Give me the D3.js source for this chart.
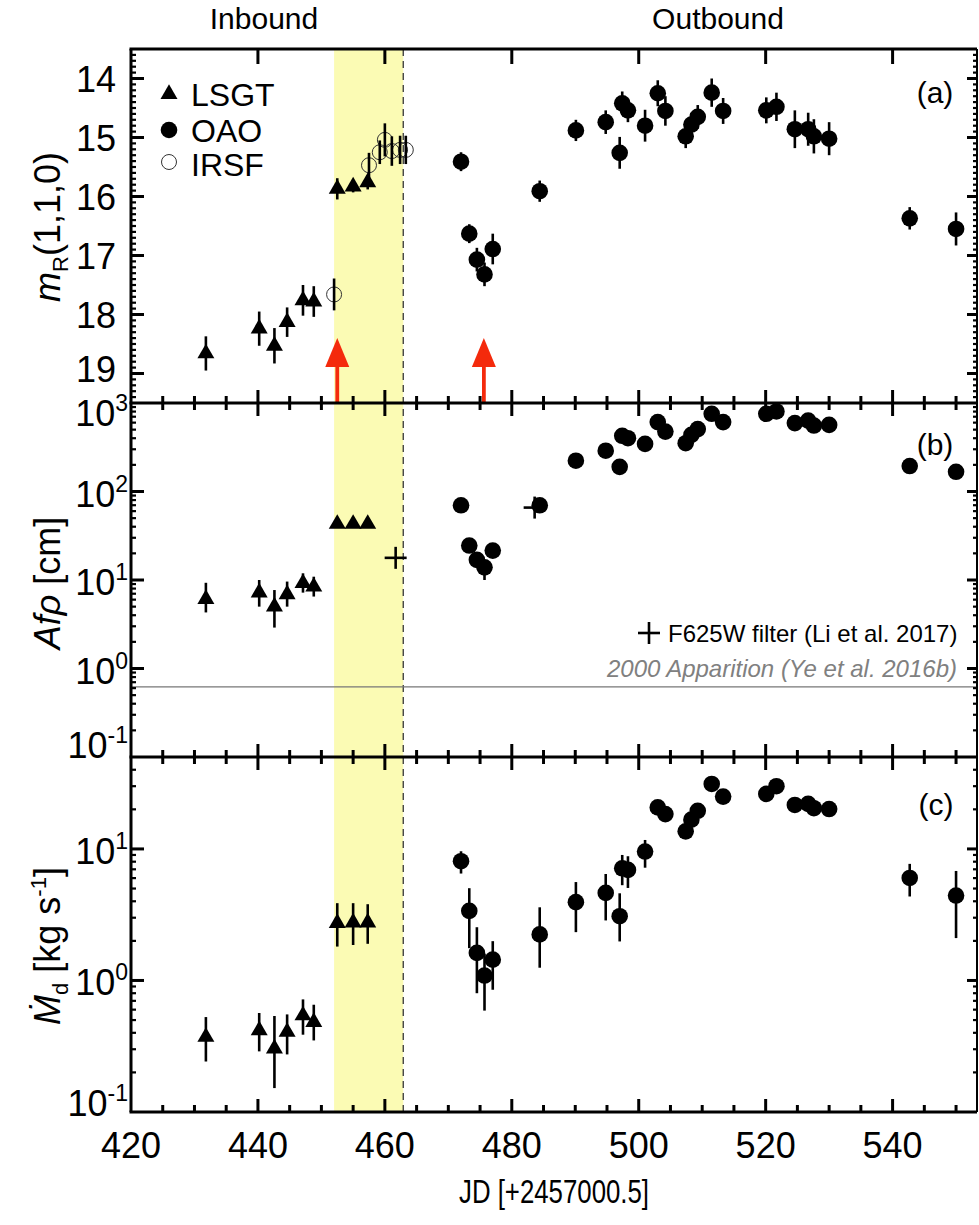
<!DOCTYPE html>
<html><head><meta charset="utf-8">
<script src="https://cdn.jsdelivr.net/npm/d3@7"></script>
<style>body{margin:0;background:#fff} svg{display:block} text{font-family:"Liberation Sans", Arial, Helvetica, sans-serif}</style>
</head><body><svg id="c" width="979" height="1225"></svg>
<script>
// ---------------- DATA ----------------
const xTicks = [420, 440, 460, 480, 500, 520, 540];
const magTicks = [14, 15, 16, 17, 18, 19];
const afrhoTicks = [0.1, 1, 10, 100, 1000];
const mdotTicks = [0.1, 1, 10];
const decadeExp = {"0.1": "-1", "1": "0", "10": "1", "100": "2", "1000": "3"};

const lsgtDay   = [431.8, 440.2, 442.6, 444.6, 447.1, 448.8, 452.5, 455.0, 457.3];
const lsgtMag   = [18.66, 18.24, 18.53, 18.13, 17.76, 17.78, 15.87, 15.83, 15.76];
const lsgtMagErr= [0.29, 0.29, 0.30, 0.25, 0.26, 0.26, 0.18, 0.10, 0.12];
const lsgtAfrho   = [6.1, 7.2, 5.0, 6.9, 9.2, 8.4, 43, 43, 43];
const lsgtAfrhoLo = [4.3, 5.0, 2.9, 5.0, 7.2, 6.5, 40, 40, 40];
const lsgtAfrhoHi = [9.3, 10.0, 7.7, 9.6, 11.9, 10.9, 46, 46, 46];
const lsgtMdot   = [0.372, 0.417, 0.303, 0.406, 0.542, 0.483, 2.73, 2.75, 2.75];
const lsgtMdotLo = [0.242, 0.289, 0.152, 0.274, 0.387, 0.350, 1.81, 1.86, 1.90];
const lsgtMdotHi = [0.527, 0.566, 0.537, 0.552, 0.718, 0.654, 3.87, 3.87, 3.80];

const irsfDay   = [452.0, 457.5, 459.2, 460.0, 461.1, 462.4, 463.3];
const irsfMag   = [17.66, 15.47, 15.25, 15.04, 15.23, 15.21, 15.21];
const irsfMagErr= [0.27, 0.21, 0.20, 0.28, 0.25, 0.24, 0.24];

const oaoDay = [472.0, 473.3, 474.5, 475.7, 477.0, 484.4, 490.1, 494.8, 497.0, 497.4, 498.3, 501.0, 503.0, 504.2,
                507.4, 508.3, 509.3, 511.5, 513.3, 520.1, 521.7, 524.6, 526.7, 527.6, 530.0, 542.7, 550.0];
const oaoMag = [15.41, 16.63, 17.07, 17.32, 16.89, 15.91, 14.88, 14.74, 15.26, 14.42, 14.54, 14.80, 14.25, 14.55,
                14.98, 14.78, 14.65, 14.24, 14.55, 14.54, 14.48, 14.86, 14.86, 14.98, 15.02, 16.37, 16.55];
const oaoMagErr = [0.16, 0.16, 0.20, 0.20, 0.26, 0.18, 0.18, 0.20, 0.27, 0.20, 0.20, 0.27, 0.22, 0.25,
                   0.20, 0.20, 0.20, 0.24, 0.22, 0.22, 0.24, 0.32, 0.28, 0.29, 0.28, 0.19, 0.28];
const oaoAfrho = [69.8, 24.5, 16.9, 13.9, 21.5, 69.8, 223, 289, 190, 426, 400, 345, 608, 475,
                  351, 436, 507, 755, 608, 755, 803, 593, 634, 556, 566, 194, 167];
const oaoAfrhoLo = [64, 22, 15, 10, 19.5, 64, 205, 265, 172, 395, 370, 318, 560, 440,
                    322, 402, 468, 700, 560, 700, 745, 545, 585, 512, 520, 178, 152];
const oaoAfrhoHi = [76, 27, 19, 16, 23.5, 76, 243, 315, 210, 460, 432, 375, 660, 512,
                    382, 472, 548, 815, 660, 815, 865, 645, 688, 602, 614, 212, 183];
const oaoMdot = [8.07, 3.38, 1.62, 1.09, 1.44, 2.24, 3.94, 4.63, 3.08, 7.13, 6.93, 9.55, 20.7, 18.4,
                 13.6, 16.7, 19.5, 31.2, 25.0, 26.2, 30.0, 21.6, 22.0, 20.4, 20.1, 6.02, 4.42];
const oaoMdotLo = [6.5, 1.76, 0.80, 0.59, 0.85, 1.25, 2.33, 2.86, 1.98, 5.3, 5.05, 7.2, 19, 17,
                   12.5, 15.5, 18, 29, 23, 24, 28, 20, 20.5, 19, 18.8, 4.35, 2.1];
const oaoMdotHi = [9.6, 5.03, 2.54, 1.6, 1.99, 3.6, 5.6, 6.45, 4.6, 9.0, 8.8, 11.7, 22.5, 20,
                   14.8, 18, 21, 33.5, 27, 28.5, 32, 23.3, 23.6, 21.8, 21.5, 7.7, 6.8];

const hstDay   = [461.7, 483.6];
const hstAfrho = [17.8, 65.8];

const apparition2000Afrho = 0.62;
const bandDays = [452.0, 462.9];
const arrowDays = [452.5, 475.6];

// ---------------- LAYOUT ----------------
const L = 131, R = 977;
const TOPA = 49, TOPB = 403, TOPC = 757, BOT = 1112;
const svg = d3.select("#c");
const x  = d3.scaleLinear([420, 553.3], [L, R]);
const ya = d3.scaleLinear([13.5, 19.5], [TOPA, TOPB]);
const yb = d3.scaleLog([0.1, 1000], [TOPC, TOPB]);
const yc = d3.scaleLog([0.1, 50], [BOT, TOPC]);
const LW = 3, EW = 2.6;

// band + dashed line
svg.append("rect").attr("x", x(bandDays[0])).attr("y", TOPA)
  .attr("width", x(bandDays[1]) - x(bandDays[0])).attr("height", BOT - TOPA).attr("fill", "#fbfbb4");
svg.append("line").attr("x1", x(bandDays[1])).attr("x2", x(bandDays[1]))
  .attr("y1", TOPA).attr("y2", BOT).attr("stroke", "#444").attr("stroke-width", 1.4)
  .attr("stroke-dasharray", "7,5");

// 2000 apparition line
svg.append("line").attr("x1", L).attr("x2", R).attr("y1", yb(apparition2000Afrho)).attr("y2", yb(apparition2000Afrho))
  .attr("stroke", "#777").attr("stroke-width", 1.4);

const g = svg.append("g");
function errBars(days, lo, hi, ys) {
  g.append("g").selectAll("line").data(days).join("line")
    .attr("x1", d => x(d)).attr("x2", d => x(d))
    .attr("y1", (d, i) => ys(lo[i])).attr("y2", (d, i) => ys(hi[i]))
    .attr("stroke", "#000").attr("stroke-width", EW);
}
const tri = d3.symbol(d3.symbolTriangle, 125);
function triangles(days, vals, ys) {
  g.append("g").selectAll("path").data(days).join("path")
    .attr("d", tri).attr("transform", (d, i) => `translate(${x(d)},${ys(vals[i])})`).attr("fill", "#000");
}
function dots(days, vals, ys) {
  g.append("g").selectAll("circle").data(days).join("circle")
    .attr("cx", d => x(d)).attr("cy", (d, i) => ys(vals[i])).attr("r", 8.3).attr("fill", "#000");
}
function openDots(days, vals, ys) {
  g.append("g").selectAll("circle").data(days).join("circle")
    .attr("cx", d => x(d)).attr("cy", (d, i) => ys(vals[i])).attr("r", 7.5)
    .attr("fill", "none").attr("stroke", "#333").attr("stroke-width", 1);
}
// panel a
errBars(lsgtDay, lsgtMag.map((m, i) => m - lsgtMagErr[i]), lsgtMag.map((m, i) => m + lsgtMagErr[i]), ya);
triangles(lsgtDay, lsgtMag, ya);
errBars(oaoDay, oaoMag.map((m, i) => m - oaoMagErr[i]), oaoMag.map((m, i) => m + oaoMagErr[i]), ya);
dots(oaoDay, oaoMag, ya);
openDots(irsfDay, irsfMag, ya);
errBars(irsfDay, irsfMag.map((m, i) => m - irsfMagErr[i]), irsfMag.map((m, i) => m + irsfMagErr[i]), ya);
// panel b
errBars(lsgtDay, lsgtAfrhoLo, lsgtAfrhoHi, yb);
triangles(lsgtDay, lsgtAfrho, yb);
function plus(cx, cy, s) {
  g.append("line").attr("x1", cx - s).attr("x2", cx + s).attr("y1", cy).attr("y2", cy).attr("stroke", "#000").attr("stroke-width", EW);
  g.append("line").attr("x1", cx).attr("x2", cx).attr("y1", cy - s).attr("y2", cy + s).attr("stroke", "#000").attr("stroke-width", EW);
}
hstDay.forEach((d, i) => plus(x(d), yb(hstAfrho[i]), 11));
errBars(oaoDay, oaoAfrhoLo, oaoAfrhoHi, yb);
dots(oaoDay, oaoAfrho, yb);
// panel c
errBars(lsgtDay, lsgtMdotLo, lsgtMdotHi, yc);
triangles(lsgtDay, lsgtMdot, yc);
errBars(oaoDay, oaoMdotLo, oaoMdotHi, yc);
dots(oaoDay, oaoMdot, yc);

// red arrows
arrowDays.forEach(d => {
  const cx = x(d);
  svg.append("line").attr("x1", cx).attr("x2", cx).attr("y1", TOPB).attr("y2", 362)
    .attr("stroke", "#f42a0c").attr("stroke-width", 3.8);
  svg.append("path").attr("d", `M${cx},338 L${cx - 12},367 L${cx + 12},367 Z`).attr("fill", "#f42a0c");
});

// ---------------- AXES ----------------
const ax = svg.append("g").attr("stroke", "#000");
[TOPA, TOPB, TOPC, BOT].forEach(y => ax.append("line").attr("x1", L - 1.5).attr("x2", R).attr("y1", y).attr("y2", y).attr("stroke-width", LW));
ax.append("line").attr("x1", L).attr("x2", L).attr("y1", TOPA).attr("y2", BOT).attr("stroke-width", LW);
ax.append("line").attr("x1", R).attr("x2", R).attr("y1", TOPA).attr("y2", BOT).attr("stroke-width", 2);

const xMinor = d3.range(425, 553, 5).filter(v => v % 20 !== 0);
function xTickSet(y0, dir, withMinor, majLen) {
  xTicks.forEach(v => { if (v > 420) ax.append("line").attr("x1", x(v)).attr("x2", x(v)).attr("y1", y0).attr("y2", y0 + dir * majLen).attr("stroke-width", LW); });
  if (withMinor) xMinor.forEach(v => ax.append("line").attr("x1", x(v)).attr("x2", x(v)).attr("y1", y0).attr("y2", y0 + dir * 7).attr("stroke-width", LW));
}
xTickSet(TOPA, 1, false, 15);
xTickSet(TOPB, -1, true, 13);
xTickSet(TOPB, 1, true, 13);
xTickSet(TOPC, -1, true, 13);
xTickSet(TOPC, 1, true, 13);
xTickSet(BOT, -1, true, 13);

function yTickSet(ys, majors, minors) {
  majors.forEach(v => {
    const y = ys(v);
    ax.append("line").attr("x1", L).attr("x2", L + 13).attr("y1", y).attr("y2", y).attr("stroke-width", LW);
    ax.append("line").attr("x1", R).attr("x2", R - 10).attr("y1", y).attr("y2", y).attr("stroke-width", LW);
  });
  minors.forEach(v => {
    const y = ys(v);
    ax.append("line").attr("x1", L).attr("x2", L + 5).attr("y1", y).attr("y2", y).attr("stroke-width", 2.2);
    ax.append("line").attr("x1", R).attr("x2", R - 4).attr("y1", y).attr("y2", y).attr("stroke-width", 2.2);
  });
}
const magMinor = d3.range(136, 195).map(v => v / 10).filter(v => Math.abs(v - Math.round(v)) > 0.01);
yTickSet(ya, magTicks, magMinor);
function logMinors(sc) {
  const [a, b] = sc.domain(); const out = [];
  for (let e = -2; e < 4; e++) for (let m = 2; m <= 9; m++) { const v = m * Math.pow(10, e); if (v > a * 1.001 && v < b * 0.999) out.push(v); }
  return out;
}
yTickSet(yb, afrhoTicks.filter(v => v > 0.1 && v < 1000), logMinors(yb));
yTickSet(yc, mdotTicks.filter(v => v > 0.1), logMinors(yc));

// ---------------- TEXT ----------------
const TF = 36;
const t = svg.append("g").attr("fill", "#000");
xTicks.forEach(v => t.append("text").attr("x", x(v)).attr("y", 1158).attr("text-anchor", "middle").attr("font-size", TF).text(v));
magTicks.forEach(v => t.append("text").attr("x", 116).attr("y", ya(v) + 13 - (v === 19 ? 5 : 0)).attr("text-anchor", "end").attr("font-size", TF).text(v));
function decLabel(v, ys, shift) {
  const tx = t.append("text").attr("x", 128).attr("y", ys(v) + 13 + shift).attr("text-anchor", "end").attr("font-size", TF);
  tx.append("tspan").text("10");
  tx.append("tspan").attr("font-size", 23).attr("dy", -15).text(decadeExp[String(v)]);
}
afrhoTicks.forEach(v => decLabel(v, yb, v === 1000 ? 10 : (v === 0.1 ? -12 : 2)));
mdotTicks.forEach(v => decLabel(v, yc, v === 0.1 ? -9 : 2));

// axis titles
function yTitle(cy, build) {
  const tx = t.append("text").attr("transform", `translate(60,${cy}) rotate(-90)`).attr("text-anchor", "middle").attr("font-size", 36);
  build(tx);
}
yTitle(227, tx => {
  tx.append("tspan").attr("font-style", "italic").text("m");
  tx.append("tspan").attr("font-size", 22).attr("dy", 8).text("R");
  tx.append("tspan").attr("dy", -8).text("(1,1,0)");
});
yTitle(583, tx => {
  tx.append("tspan").attr("font-style", "italic").text("Afρ");
  tx.append("tspan").text(" [cm]");
});
yTitle(946, tx => {
  tx.append("tspan").attr("font-style", "italic").text("Ṁ");
  tx.append("tspan").attr("font-size", 22).attr("dy", 8).text("d");
  tx.append("tspan").attr("dy", -8).text(" [kg s");
  tx.append("tspan").attr("font-size", 22).attr("dy", -14).text("-1");
  tx.append("tspan").attr("dy", 14).text("]");
});
t.append("text").attr("x", 554).attr("y", 1203).attr("text-anchor", "middle").attr("font-size", 34)
  .attr("textLength", 190).attr("lengthAdjust", "spacingAndGlyphs").text("JD [+2457000.5]");
t.append("text").attr("x", 264).attr("y", 29).attr("text-anchor", "middle").attr("font-size", 30).text("Inbound");
t.append("text").attr("x", 718).attr("y", 29).attr("text-anchor", "middle").attr("font-size", 30).text("Outbound");

// panel labels
[["(a)", 935, 92], ["(b)", 935, 444], ["(c)", 936, 804]].forEach(([s, px, py]) =>
  t.append("text").attr("x", px).attr("y", py + 11).attr("text-anchor", "middle").attr("font-size", 30).text(s));

// legend (a)
const lg = svg.append("g");
lg.append("path").attr("d", tri).attr("transform", "translate(169,94)").attr("fill", "#000");
lg.append("circle").attr("cx", 169).attr("cy", 130).attr("r", 8.3).attr("fill", "#000");
lg.append("circle").attr("cx", 169).attr("cy", 162).attr("r", 7.5).attr("fill", "none").attr("stroke", "#333").attr("stroke-width", 1);
[["LSGT", 94], ["OAO", 130], ["IRSF", 164]].forEach(([s, cy]) =>
  lg.append("text").attr("x", 191).attr("y", cy + 11.5).attr("font-size", 32).text(s));

// legend (b)
plus(649, 633, 11);
t.append("text").attr("x", 668).attr("y", 641.5).attr("font-size", 24).text("F625W filter (Li et al. 2017)");
t.append("text").attr("x", 957).attr("y", 676.5).attr("text-anchor", "end").attr("font-size", 24)
  .attr("font-style", "italic").attr("fill", "#808080").text("2000 Apparition (Ye et al. 2016b)");
</script></body></html>
